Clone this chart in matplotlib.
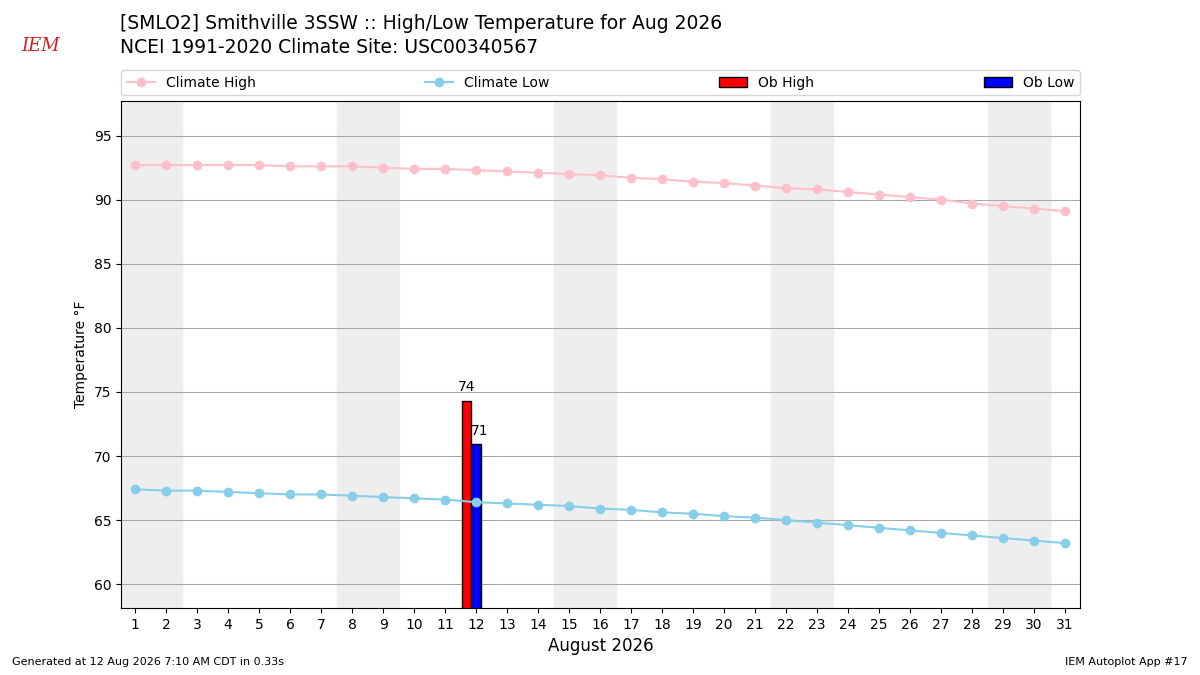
import matplotlib
matplotlib.use('Agg')
from matplotlib import pyplot as plt
import numpy as np

days = np.arange(1, 32)
climate_high = [92.7, 92.7, 92.7, 92.7, 92.7, 92.6, 92.6, 92.6, 92.5, 92.4, 92.4, 92.3, 92.2, 92.1, 92.0, 91.9,
                91.7, 91.6, 91.4, 91.3, 91.1, 90.9, 90.8, 90.6, 90.4, 90.2, 90.0, 89.7, 89.5, 89.3, 89.1]
climate_low = [67.4, 67.3, 67.3, 67.2, 67.1, 67.0, 67.0, 66.9, 66.8, 66.7, 66.6, 66.4, 66.3, 66.2, 66.1, 65.9,
               65.8, 65.6, 65.5, 65.3, 65.2, 65.0, 64.8, 64.6, 64.4, 64.2, 64.0, 63.8, 63.6, 63.4, 63.2]
ob_days = [12]
ob_high = [74.3]
ob_low = [70.9]
weekends = [1, 8, 15, 22, 29]

fig = plt.figure(figsize=(12, 6.75), dpi=100)
ax = fig.add_axes([0.101, 0.099, 0.799, 0.752])

for d in weekends:
    ax.axvspan(d - 0.5, d + 1.5, color='#eeeeee', zorder=0)

ax.plot(days, climate_high, '-o', c='pink', label='Climate High', zorder=3)
ax.plot(days, climate_low, '-o', c='skyblue', label='Climate Low', zorder=3)
ax.bar(np.array(ob_days) - 0.3, ob_high, width=0.3, color='r', ec='k', label='Ob High', zorder=2)
ax.bar(np.array(ob_days), ob_low, width=0.3, color='b', ec='k', label='Ob Low', zorder=2)
for d, v in zip(ob_days, ob_high):
    ax.text(d - 0.3, v + 0.5, f'{v:.0f}', ha='center', va='bottom', fontsize=10)
for d, v in zip(ob_days, ob_low):
    ax.text(d + 0.1, v + 0.5, f'{v:.0f}', ha='center', va='bottom', fontsize=10)

ax.set_xlim(0.55, 31.48)
ax.set_ylim(58.13, 97.73)
ax.set_xticks(days)
ax.set_yticks(range(60, 96, 5))
ax.grid(axis='y', c='#aaaaaa')
ax.set_axisbelow(True)
ax.set_ylabel('Temperature °F')
ax.set_xlabel('August 2026', fontsize=12)
ax.legend(loc='lower left', bbox_to_anchor=(0, 1.01, 1, 0.05), ncol=4, mode='expand',
          borderaxespad=0, fontsize=10)

fig.text(0.1, 0.965, '[SMLO2] Smithville 3SSW :: High/Low Temperature for Aug 2026', fontsize=13.5, va='center')
fig.text(0.1, 0.93, 'NCEI 1991-2020 Climate Site: USC00340567', fontsize=13.5, va='center')
fig.text(0.018, 0.932, 'IEM', color='#cc2222', fontsize=13, style='italic', family='serif', va='center')
fig.text(0.01, 0.015, 'Generated at 12 Aug 2026 7:10 AM CDT in 0.33s', fontsize=8)
fig.text(0.99, 0.015, 'IEM Autoplot App #17', fontsize=8, ha='right')

fig.savefig('out.png')
